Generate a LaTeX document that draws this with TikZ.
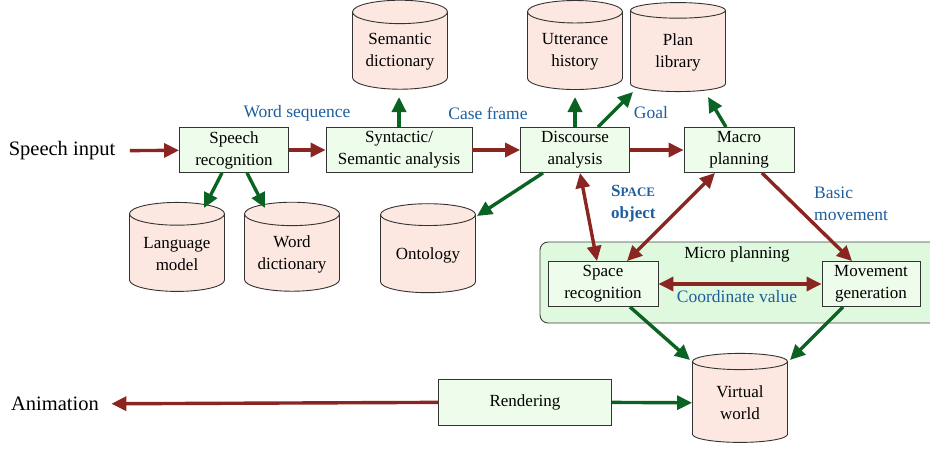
\documentclass[tikz,border=0pt]{standalone}
\usepackage{fontspec}
\setmainfont{Liberation Serif}
\usepackage{tikz}
\usetikzlibrary{shapes.geometric,arrows.meta}
\definecolor{arrred}{HTML}{8B2522}
\definecolor{arrgreen}{HTML}{0A6322}
\definecolor{lblblue}{HTML}{1F5E9E}
\definecolor{procfill}{HTML}{EEFCEB}
\definecolor{dbfill}{HTML}{FDE8E1}
\definecolor{microfill}{HTML}{DEF9DD}

\begin{document}
\begin{tikzpicture}[x=1pt,y=-1pt,
    proc/.style={draw=black!80,fill=procfill,line width=0.9pt,minimum width=#1,
        minimum height=45,inner sep=1pt,align=center,font=\fontsize{17}{22}\selectfont},
    proc/.default=110,
    db/.style={cylinder,shape border rotate=90,aspect=0.33,draw=black!80,fill=dbfill,
        line width=0.9pt,minimum width=95,minimum height=89,inner sep=1pt,
        align=center,font=\fontsize{17}{22}\selectfont},
    redarr/.style={draw=arrred,line width=3.4pt,-{Triangle[length=15pt,width=14pt]}},
    redboth/.style={draw=arrred,line width=3.4pt,{Triangle[length=15pt,width=14pt]}-{Triangle[length=15pt,width=14pt]}},
    greenarr/.style={draw=arrgreen,line width=3.4pt,-{Triangle[length=15pt,width=14pt]}},
    lbl/.style={text=lblblue,font=\fontsize{17.5}{22}\selectfont,inner sep=0pt}]
    \useasboundingbox (0,0) rectangle (930,450);

    % micro planning area
    \node[draw=black!75,fill=microfill,line width=0.9pt,rounded corners=8pt,
        minimum width=405,minimum height=81] (micro) at (742.5,282.5) {};
    \node[font=\fontsize{17}{22}\selectfont] (microlbl) at (737,254) {Micro planning};

    % processes
    \node[font=\fontsize{20.5}{24}\selectfont] (sin) at (62,151) {Speech input};
    \node[proc=109] (srec) at (234,150) {Speech\\recognition};
    \node[proc=146] (syn) at (399,150) {Syntactic/\\Semantic analysis};
    \node[proc=109] (disc) at (575,150) {Discourse\\analysis};
    \node[proc=110] (macro) at (739,150) {Macro\\planning};
    \node[proc=110] (sprec) at (603,284) {Space\\recognition};
    \node[proc=98] (movgen) at (871,284) {Movement\\generation};
    \node[proc=173,minimum height=46] (rend) at (525,402) {Rendering};
    \node[font=\fontsize{20.5}{24}\selectfont] (anim) at (55,404) {Animation};

    % databases
    \node[db] (sdict) at (400,52) {Semantic\\dictionary};
    \node[db] (utt) at (575,52) {Utterance\\history};
    \node[db] (plan) at (678,52) {Plan\\library};
    \node[db] (lang) at (177,254) {Language\\model};
    \node[db] (wdict) at (292,254) {Word\\dictionary};
    \node[db] (onto) at (428,255) {Ontology};
    \node[db] (vw) at (740,403) {Virtual\\world};

    % data flow
    \draw[redarr,shorten <=11pt] (sin) -- (srec);
    \draw[redarr] (srec) -- (syn);
    \draw[redarr] (syn) -- (disc);
    \draw[redarr] (disc) -- (macro);
    \draw[redboth] ([xshift=5pt]disc.south) -- ([xshift=-6pt]sprec.north);
    \draw[redboth] ([xshift=-24pt]macro.south) -- ([xshift=24pt]sprec.north);
    \draw[redarr] ([xshift=23pt]macro.south) -- ([xshift=-19pt]movgen.north);
    \draw[redboth] (sprec) -- (movgen);
    \draw[redarr,shorten >=9pt] (rend) -- (anim);

    % knowledge access
    \draw[greenarr] ([xshift=-12pt]srec.south) -- ([xshift=27pt,yshift=46pt]lang.center);
    \draw[greenarr] ([xshift=13pt]srec.south) -- ([xshift=-27pt,yshift=46pt]wdict.center);
    \draw[greenarr] (syn.north) -- ([yshift=-45pt]syn.north |- sdict.center);
    \draw[greenarr] (disc.north) -- ([yshift=-45pt]disc.north |- utt.center);
    \draw[greenarr] ([xshift=23pt]disc.north) -- ([xshift=-45pt,yshift=-40pt]plan.center);
    \draw[greenarr] ([xshift=-13pt]macro.north) -- ([xshift=30pt,yshift=-45pt]plan.center);
    \draw[greenarr] ([xshift=-32pt]disc.south) -- ([xshift=49pt,yshift=39pt]onto.center);
    \draw[greenarr] ([xshift=27pt]sprec.south) -- ([xshift=-50pt,yshift=43pt]vw.center);
    \draw[greenarr] ([xshift=-28pt]movgen.south) -- ([xshift=50pt,yshift=43pt]vw.center);
    \draw[greenarr] (rend) -- (vw);

    % labels
    \node[lbl] (wseq) at (297,113) {Word sequence};
    \node[lbl] (cframe) at (488,113) {Case frame};
    \node[lbl] (goal) at (651,113) {Goal};
    \node[lbl,anchor=west,align=left,font=\bfseries\fontsize{17}{22}\selectfont] (spobj) at (611,204)
        {S{\fontsize{13}{15}\selectfont PACE}\\object};
    \node[lbl,anchor=west,align=left] (basic) at (814,204) {Basic\\movement};
    \node[lbl] (coord) at (737,297) {Coordinate value};
\end{tikzpicture}
\end{document}
